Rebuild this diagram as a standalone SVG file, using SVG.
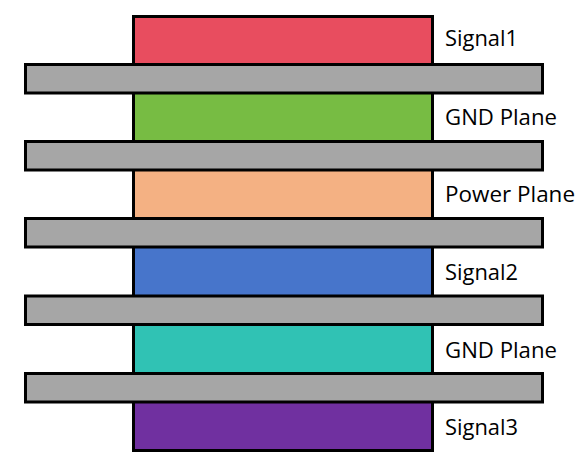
<svg xmlns="http://www.w3.org/2000/svg" width="583" height="468" viewBox="0 0 583 468">
<style>
.layer{stroke:#000;stroke-width:3}
.bar{fill:#A6A6A6;stroke:#000;stroke-width:3}
.lbl{font-family:"Open Sans","Liberation Sans",sans-serif;font-size:21px;fill:#000}
</style>
<rect width="583" height="468" fill="#fff"/>
<g id="signal1"><rect class="layer" x="133.5" y="16.5" width="299" height="60" fill="#E84D5F"/><text class="lbl" x="445" y="46" textLength="73" lengthAdjust="spacingAndGlyphs">Signal1</text></g>
<g id="gnd1"><rect class="layer" x="133.5" y="80" width="299" height="70" fill="#77BC43"/><text class="lbl" x="445" y="124.5" textLength="112" lengthAdjust="spacingAndGlyphs">GND Plane</text></g>
<g id="power"><rect class="layer" x="133.5" y="157" width="299" height="70" fill="#F4B183"/><text class="lbl" x="445" y="202" textLength="130" lengthAdjust="spacingAndGlyphs">Power Plane</text></g>
<g id="signal2"><rect class="layer" x="133.5" y="234" width="299" height="70" fill="#4775CB"/><text class="lbl" x="445" y="279.5" textLength="73" lengthAdjust="spacingAndGlyphs">Signal2</text></g>
<g id="gnd2"><rect class="layer" x="133.5" y="312" width="299" height="70" fill="#30C2B4"/><text class="lbl" x="445" y="357.5" textLength="112" lengthAdjust="spacingAndGlyphs">GND Plane</text></g>
<g id="signal3"><rect class="layer" x="133.5" y="390" width="299" height="60.5" fill="#7030A0"/><text class="lbl" x="445" y="435" textLength="73" lengthAdjust="spacingAndGlyphs">Signal3</text></g>
<g id="dielectric1"><rect class="bar" x="25.5" y="64.5" width="517" height="28.5"/></g>
<g id="dielectric2"><rect class="bar" x="25.5" y="141.5" width="517" height="28.5"/></g>
<g id="dielectric3"><rect class="bar" x="25.5" y="218.5" width="517" height="28.5"/></g>
<g id="dielectric4"><rect class="bar" x="25.5" y="296" width="517" height="28.5"/></g>
<g id="dielectric5"><rect class="bar" x="25.5" y="373.5" width="517" height="28.5"/></g>
</svg>
